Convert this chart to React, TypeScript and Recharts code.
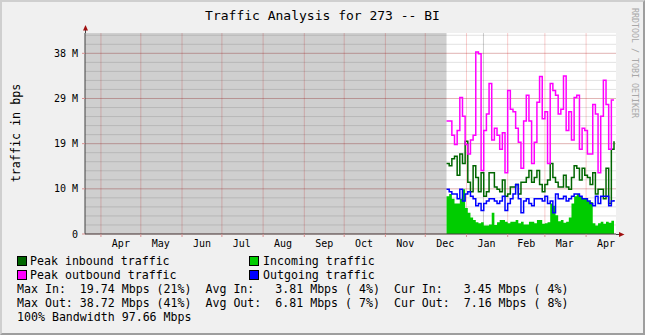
import React from "react";
import {
  ComposedChart,
  Area,
  Line,
  XAxis,
  YAxis,
  CartesianGrid,
  ReferenceArea,
} from "recharts";

// x values are days counted from 1 Apr of the first year, y values in Mbps
const axisStartDay = -12;
const axisEndDay = 387.5;
const yTop = 42.72;

const monthStartDays = [0, 30, 61, 91, 122, 153, 183, 214, 244, 275, 306, 334, 365];
const monthMidDays = [15, 45, 76, 106, 137, 168, 198, 229, 259, 290, 320, 349, 380];
const monthLabels = ["Apr", "May", "Jun", "Jul", "Aug", "Sep", "Oct", "Nov", "Dec", "Jan", "Feb", "Mar", "Apr"];

const yTicks = [0, 9.6, 19.2, 28.8, 38.4];
const minorStep = 1.92;

// periods with no data (drawn grey)
const unknownSpans = [
  [-12, 260],
  [287.4, 288.2],
];

const sampleDays = [
  260, 262, 264, 266, 268, 270, 272, 274,
  276, 278, 280, 282, 284, 286, 288, 290,
  292, 294, 296, 298, 300, 302, 304, 306,
  308, 310, 312, 314, 316, 318, 320, 322,
  324, 326, 328, 330, 332, 334, 336, 338,
  340, 342, 344, 346, 348, 350, 352, 354,
  356, 358, 360, 362, 364, 366, 368, 370,
  372, 374, 376, 378, 380, 382, 384, 386,
];

const incomingMbps = [
  8, 8.5, 7.5, 6.5, 6.5, 7.5, 9.5, 5.5,
  4.5, 3.5, 3, 2.5, 2.3, 2.5, 1.8, 1.8,
  2, 4.5, 1.9, 2.5, 3, 3, 2.6, 2.3,
  2.6, 2.6, 3, 2.3, 2.6, 2, 2, 2.6,
  2.6, 2.3, 3, 3, 2.2, 2.3, 2.5, 6.5,
  6, 4, 2.7, 3, 2.4, 2.6, 3.5, 6.5,
  8, 8.5, 8, 7.5, 7.5, 7, 6.8, 2.3,
  1.8, 2.3, 2.6, 2.2, 2.6, 2.4, 2.8, 3.45,
];

const outgoingMbps = [
  9.5, 9, 8.5, 8.5, 7.5, 9.5, 7, 8.5,
  9, 8, 7.5, 6, 6.5, 5, 6.5, 7,
  7.5, 7.5, 7, 6.5, 7, 8, 5, 6.5,
  7.5, 8.5, 10.5, 7.5, 4.5, 7, 7.5, 6.5,
  6, 7.5, 7.5, 7.5, 7, 8, 6.5, 7,
  4.5, 8.5, 7.5, 7.5, 8, 7, 7.5, 8,
  8.5, 8.5, 8, 7.5, 7.5, 7, 6.5, 6,
  8, 6.5, 8, 8, 8, 6, 7, 7.2,
];

const peakInMbps = [
  15, 14.5, 16, 16.5, 12.5, 17, 15, 19.7,
  11, 9, 14.5, 12, 9, 13, 8, 9,
  13, 13, 10, 9.5, 9, 11.5, 8, 8.5,
  10, 10, 10.5, 8.5, 11, 11, 12, 13.5,
  11, 12, 13.5, 10.5, 9, 10.5, 11.5, 15,
  12, 11, 10, 10, 12.5, 10, 9.5, 12,
  14.5, 14, 11.5, 14, 12.5, 12, 10.5, 13,
  8.5, 9.5, 9.5, 7.5, 14, 6.5, 18, 19.7,
];

const peakOutMbps = [
  24, 24, 21, 19, 22, 29, 25, 19,
  17, 20, 21, 38.7, 38.3, 13.5, 22, 25.5,
  32, 20, 22.5, 21, 18, 21.5, 13, 30.5,
  26.5, 26, 22.5, 19.5, 14, 24, 29.5, 24,
  15, 19.5, 28, 33.5, 24.5, 26, 15, 32,
  30.5, 29.5, 25.5, 26.5, 33.6, 22, 26, 20,
  29, 29.5, 18, 22.5, 22, 17, 17, 27.5,
  25.5, 13, 25, 32.7, 27.5, 18, 28.5, 28.5,
];

const statLines = [
  "Max In:  19.74 Mbps (21%)  Avg In:   3.81 Mbps ( 4%)  Cur In:   3.45 Mbps ( 4%)",
  "Max Out: 38.72 Mbps (41%)  Avg Out:  6.81 Mbps ( 7%)  Cur Out:  7.16 Mbps ( 8%)",
  "100% Bandwidth 97.66 Mbps",
];

const FONT = "'DejaVu Sans Mono', monospace";

const chartData = sampleDays.map((day, i) => ({
  day,
  incoming: incomingMbps[i],
  outgoing: outgoingMbps[i],
  peakIn: peakInMbps[i],
  peakOut: peakOutMbps[i],
}));

const minorValues: number[] = [];
for (let v = minorStep; v < yTop; v += minorStep) minorValues.push(+v.toFixed(2));

function MonthTick(props: any) {
  const { x, y, payload } = props;
  const idx = monthMidDays.indexOf(payload.value);
  if (idx >= 0) {
    return (
      <text x={x} y={y + 13} textAnchor="middle" fontSize={10} fontFamily={FONT} fill="#000">
        {monthLabels[idx]}
      </text>
    );
  }
  return <line x1={x} y1={y} x2={x} y2={y + 3} stroke="#d89090" />;
}

function Swatch({ color, left, top }: { color: string; left: number; top: number }) {
  return (
    <div
      style={{
        position: "absolute",
        left,
        top,
        width: 8,
        height: 8,
        border: "1px solid #000",
        background: color,
      }}
    />
  );
}

const textStyle: React.CSSProperties = {
  position: "absolute",
  fontSize: 11.6,
  lineHeight: "14px",
  whiteSpace: "pre",
  color: "#000",
};

export default function App() {
  return (
    <div
      style={{
        position: "absolute",
        left: 0,
        top: 0,
        width: 645,
        height: 335,
        background: "#f0f0f0",
        fontFamily: FONT,
        overflow: "hidden",
      }}
    >
      <div style={{ position: "absolute", left: 0, top: 0 }}>
        <ComposedChart
          width={645}
          height={335}
          data={chartData}
          margin={{ top: 33, right: 29, bottom: 0, left: 0 }}
        >
          <CartesianGrid
            fill="#ffffff"
            vertical={false}
            horizontalValues={minorValues}
            stroke="rgba(150,150,150,0.28)"
          />
          <CartesianGrid
            horizontalValues={yTicks}
            verticalValues={monthStartDays}
            stroke="rgba(230,0,0,0.2)"
          />
          {unknownSpans.map(([a, b], i) => (
            <ReferenceArea key={i} x1={a} x2={b} fill="#000000" fillOpacity={0.19} stroke="none" ifOverflow="hidden" />
          ))}
          <XAxis
            dataKey="day"
            type="number"
            domain={[axisStartDay, axisEndDay]}
            allowDataOverflow
            ticks={[...monthStartDays, ...monthMidDays]}
            interval={0}
            tick={<MonthTick />}
            tickLine={false}
            tickSize={0}
            tickMargin={0}
            height={101}
            axisLine={{ stroke: "#404040" }}
          />
          <YAxis
            type="number"
            domain={[0, yTop]}
            allowDataOverflow
            ticks={yTicks}
            interval={0}
            width={85}
            tickSize={3}
            tickMargin={4}
            tickLine={{ stroke: "#d89090" }}
            axisLine={{ stroke: "#404040" }}
            tick={{ fontSize: 10, fontFamily: FONT, fill: "#000" }}
            tickFormatter={(v: number) => (v === 0 ? "0" : `${Math.round(v)} M`)}
          />
          <Area
            type="stepAfter"
            dataKey="incoming"
            fill="#00cc00"
            fillOpacity={1}
            stroke="none"
            isAnimationActive={false}
            activeDot={false}
          />
          <Line
            type="stepAfter"
            dataKey="peakIn"
            stroke="#006600"
            strokeWidth={1.5}
            dot={false}
            activeDot={false}
            isAnimationActive={false}
          />
          <Line
            type="stepAfter"
            dataKey="peakOut"
            stroke="#ff00ff"
            strokeWidth={1.5}
            dot={false}
            activeDot={false}
            isAnimationActive={false}
          />
          <Line
            type="stepAfter"
            dataKey="outgoing"
            stroke="#0000ff"
            strokeWidth={1.5}
            dot={false}
            activeDot={false}
            isAnimationActive={false}
          />
        </ComposedChart>
      </div>

      {/* axis arrows */}
      <svg style={{ position: "absolute", left: 0, top: 0 }} width={645} height={335}>
        <line x1={85.5} y1={33} x2={85.5} y2={29} stroke="#404040" />
        <polygon points="83,30.5 88,30.5 85.5,25" fill="#a01010" />
        <line x1={616} y1={234.5} x2={620} y2={234.5} stroke="#404040" />
        <polygon points="619,232 619,237 624.5,234.5" fill="#a01010" />
      </svg>

      <div
        style={{
          position: "absolute",
          left: 0,
          top: 8,
          width: 645,
          textAlign: "center",
          fontSize: 13,
          lineHeight: "16px",
          color: "#000",
        }}
      >
        Traffic Analysis for 273 -- BI
      </div>

      <div
        style={{
          position: "absolute",
          left: 16,
          top: 133,
          transform: "translate(-50%, -50%) rotate(-90deg)",
          fontSize: 11.7,
          whiteSpace: "nowrap",
          color: "#000",
        }}
      >
        traffic in bps
      </div>

      <div
        style={{
          position: "absolute",
          left: 635,
          top: 63,
          transform: "translate(-50%, -50%) rotate(90deg)",
          fontSize: 8.3,
          whiteSpace: "nowrap",
          color: "#a8a8a8",
        }}
      >
        RRDTOOL / TOBI OETIKER
      </div>

      <Swatch color="#006600" left={17} top={256} />
      <div style={{ ...textStyle, left: 30, top: 254 }}>Peak inbound traffic</div>
      <Swatch color="#00cc00" left={249} top={256} />
      <div style={{ ...textStyle, left: 263, top: 254 }}>Incoming traffic</div>
      <Swatch color="#ff00ff" left={17} top={270} />
      <div style={{ ...textStyle, left: 30, top: 268 }}>Peak outbound traffic</div>
      <Swatch color="#0000ff" left={249} top={270} />
      <div style={{ ...textStyle, left: 263, top: 268 }}>Outgoing traffic</div>
      {statLines.map((s, i) => (
        <div key={i} style={{ ...textStyle, left: 17, top: 282 + i * 14 }}>
          {s}
        </div>
      ))}

      <div
        style={{
          position: "absolute",
          inset: 0,
          borderStyle: "solid",
          borderWidth: 2,
          borderColor: "#cfcfcf #9e9e9e #9e9e9e #cfcfcf",
          boxSizing: "border-box",
          pointerEvents: "none",
        }}
      />
    </div>
  );
}
